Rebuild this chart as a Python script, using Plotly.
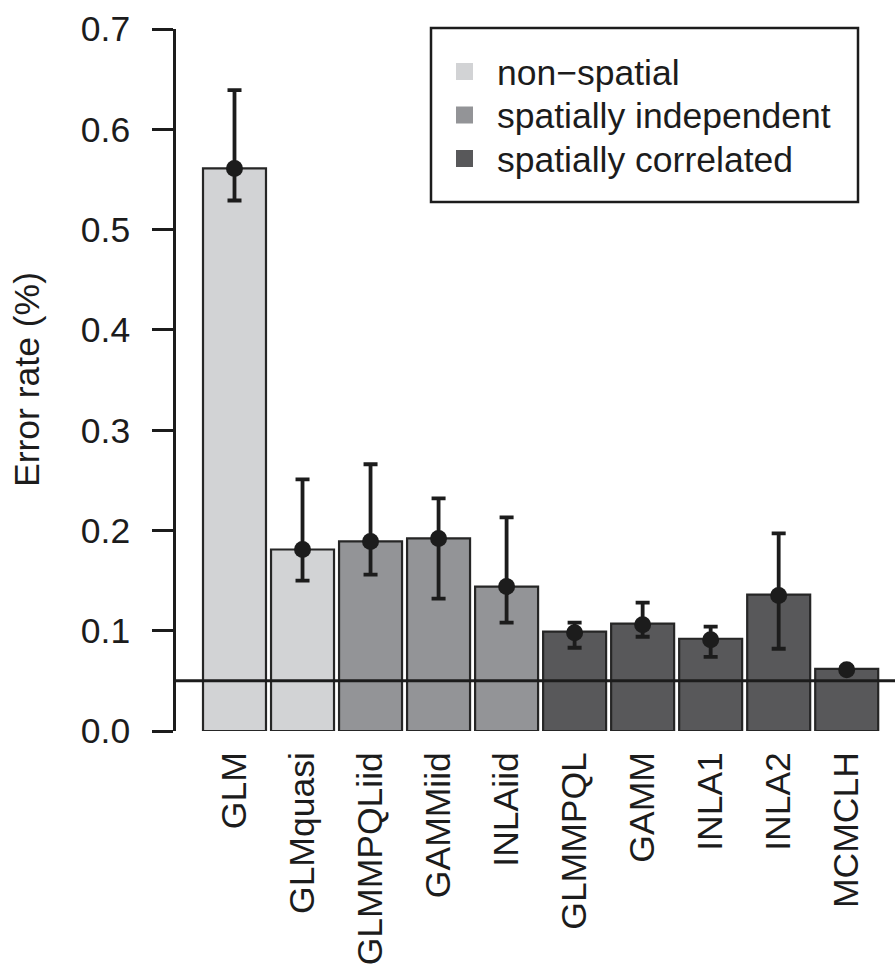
import plotly.graph_objects as go

# ---- data ----
methods = ["GLM", "GLMquasi", "GLMMPQLiid", "GAMMiid", "INLAiid",
           "GLMMPQL", "GAMM", "INLA1", "INLA2", "MCMCLH"]
groups = ["non\u2212spatial", "non\u2212spatial",
          "spatially independent", "spatially independent", "spatially independent",
          "spatially correlated", "spatially correlated", "spatially correlated",
          "spatially correlated", "spatially correlated"]
bar_height = [0.561, 0.181, 0.189, 0.192, 0.144, 0.099, 0.107, 0.092, 0.136, 0.062]
point_est = [0.561, 0.181, 0.189, 0.192, 0.144, 0.098, 0.106, 0.091, 0.135, 0.061]
err_low = [0.529, 0.150, 0.156, 0.132, 0.108, 0.083, 0.094, 0.074, 0.082, 0.059]
err_high = [0.639, 0.251, 0.266, 0.232, 0.213, 0.108, 0.128, 0.104, 0.197, 0.064]
legend_labels = ["non\u2212spatial", "spatially independent", "spatially correlated"]
reference_rate = 0.05
y_ticks = [0.0, 0.1, 0.2, 0.3, 0.4, 0.5, 0.6, 0.7]
y_title = "Error rate (%)"

# ---- styles ----
group_colors = {"non\u2212spatial": "#d2d3d5",
                "spatially independent": "#939497",
                "spatially correlated": "#58585a"}
ink = "#1c1c1c"
FONT = "Liberation Sans, Arial, Helvetica, sans-serif"
FS = 35.5

W, H = 895, 966
L, R, T, B = 176, 0, 29, 235
pw, ph = W - L - R, H - T - B


def px_x(px):
    return (px - L) / pw


def px_y(py):
    return (H - B - py) / ph


fig = go.Figure()

fig.add_trace(go.Bar(
    x=methods, y=bar_height,
    marker=dict(color=[group_colors[g] for g in groups],
                line=dict(color="#262626", width=2.2)),
    showlegend=False, hoverinfo="x+y",
))

fig.add_trace(go.Scatter(
    x=methods, y=point_est, mode="markers",
    marker=dict(color=ink, size=17),
    error_y=dict(type="data", symmetric=False,
                 array=[h - p for h, p in zip(err_high, point_est)],
                 arrayminus=[p - l for p, l in zip(point_est, err_low)],
                 color=ink, thickness=3.8, width=7),
    showlegend=False,
))

# reference line
fig.add_shape(type="line", xref="paper", yref="y", x0=0, x1=1,
              y0=reference_rate, y1=reference_rate,
              line=dict(color=ink, width=3), layer="above")

# legend (drawn manually to match box geometry)
fig.add_shape(type="rect", xref="paper", yref="paper",
              x0=px_x(431), x1=px_x(858), y0=px_y(202), y1=px_y(28),
              line=dict(color=ink, width=2.5), fillcolor="white", layer="above")
row_y = [71.5, 115, 158.5]
for lab, ry in zip(legend_labels, row_y):
    fig.add_shape(type="rect", xref="paper", yref="paper",
                  x0=px_x(456), x1=px_x(473), y0=px_y(ry + 8.5), y1=px_y(ry - 8.5),
                  line=dict(width=0), fillcolor=group_colors[lab], layer="above")
    fig.add_annotation(x=px_x(495), y=px_y(ry + 1), xref="paper", yref="paper",
                       text=lab, showarrow=False, xanchor="left", yanchor="middle",
                       font=dict(family=FONT, size=FS, color=ink))

# y title
fig.add_annotation(x=px_x(27), y=0.5, xref="paper", yref="paper",
                   text=y_title, textangle=-90, showarrow=False,
                   xanchor="center", yanchor="middle",
                   font=dict(family=FONT, size=FS, color=ink))

fig.update_layout(
    width=W, height=H,
    margin=dict(l=L, r=R, t=T, b=B, autoexpand=False),
    plot_bgcolor="white", paper_bgcolor="white",
    bargap=0.074,
    font=dict(family=FONT, size=FS, color=ink),
    xaxis=dict(type="category", categoryorder="array", categoryarray=methods,
               range=[-0.86, 9.71], showline=False, showgrid=False, zeroline=False,
               ticks="outside", ticklen=6, tickcolor="rgba(0,0,0,0)",
               tickangle=-90, tickfont=dict(family=FONT, size=FS, color=ink)),
    yaxis=dict(range=[0, 0.7], tickvals=y_ticks,
               ticktext=[f"{v:.1f}" for v in y_ticks],
               showline=True, linecolor=ink, linewidth=2.5,
               ticks="outside", ticklen=21, tickwidth=2.5, tickcolor=ink,
               ticklabelstandoff=15,
               showgrid=False, zeroline=False,
               tickfont=dict(family=FONT, size=FS, color=ink)),
)

fig.write_html("out.html")
